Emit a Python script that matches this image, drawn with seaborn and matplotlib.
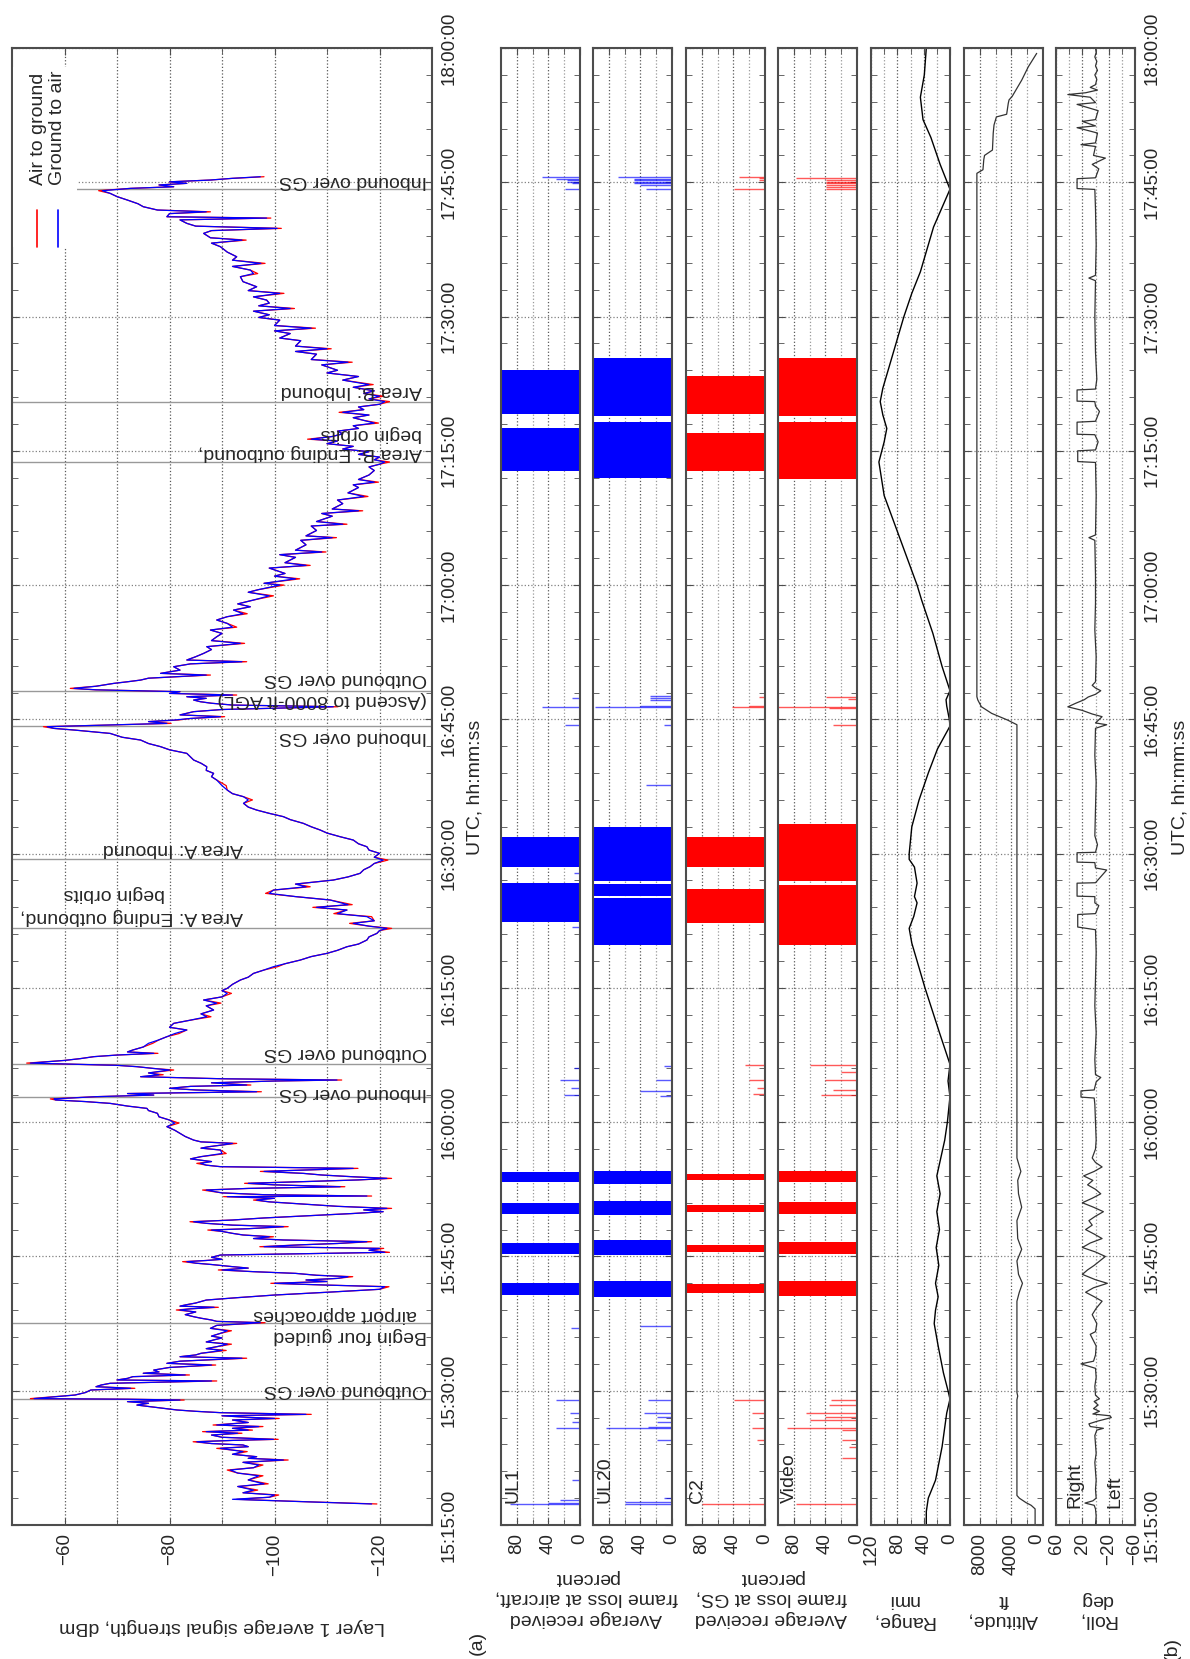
import numpy as np
import seaborn as sns
import matplotlib.pyplot as plt
from matplotlib.ticker import FixedLocator, FuncFormatter, NullFormatter
from matplotlib.patches import Rectangle

sns.set_style("white")
plt.rcParams['font.family'] = ['Liberation Sans', 'DejaVu Sans']

# all times are minutes after 15:00:00 UTC

# layer 1 signal strength: (t, ground to air dBm, air to ground dBm)
sig_pts = np.array([
    (17.35, -118.5, -119.5), (17.6, -106, -106), (17.87, -92, -92.8), (18.1, -99, -99), (18.35, -100, -100.8),
    (18.6, -94, -94), (18.9, -96, -96.8), (19.3, -93, -93), (19.6, -98, -98.8), (20.03, -95, -95),
    (20.5, -97, -97.8), (20.8, -93, -93), (21.14, -91.6, -91), (21.4, -96, -96), (21.7, -97, -97.8),
    (22.0, -94, -94), (22.26, -101.7, -102.6), (22.45, -95, -95), (22.63, -96.6, -96.6), (22.9, -92, -92),
    (23.2, -94, -94.8), (23.56, -89.7, -89), (23.75, -95, -95), (23.94, -94, -94), (24.1, -88, -88),
    (24.3, -85.2, -84.5), (24.45, -92, -92), (24.57, -99.8, -100.7), (24.8, -90, -90), (25.05, -88, -88),
    (25.25, -93, -93.8), (25.43, -87, -86.3), (25.6, -95, -95.8), (25.8, -92, -92), (26.0, -97, -97.8),
    (26.17, -89, -88.3), (26.45, -95, -95), (26.73, -92, -92), (26.9, -100, -100.9), (27.03, -95, -95),
    (27.2, -90, -90), (27.36, -106, -107), (27.55, -89.7, -89.7), (27.7, -85, -85), (27.85, -81.4, -81.4),
    (28.1, -78, -78), (28.4, -73.8, -73.8), (28.6, -76, -76), (28.78, -72, -72), (28.96, -82, -82.8),
    (29.05, -72, -72), (29.12, -54.2, -53.5), (29.52, -62, -62), (29.8, -64, -64), (30.08, -65, -65),
    (30.27, -72.6, -73.4), (30.45, -66, -66), (30.64, -67, -67), (30.83, -68.7, -68.7), (31.09, -88, -89),
    (31.2, -70, -70), (31.38, -72, -72), (31.57, -73, -73), (31.76, -83, -83.8), (31.95, -75, -75),
    (32.1, -78, -78), (32.31, -77, -77), (32.6, -80, -80), (32.87, -88, -88.8), (33.06, -79.5, -79.5),
    (33.3, -82, -82), (33.63, -93.8, -94.7), (33.8, -82, -82), (34.0, -85, -85), (34.18, -86, -86),
    (34.5, -90, -90.8), (34.7, -87, -87), (34.92, -89, -89), (35.2, -91, -91.8), (35.45, -87, -87),
    (35.67, -88.4, -88.4), (35.9, -90, -90), (36.1, -88, -88), (36.41, -89.7, -89.7), (36.7, -91, -91.8),
    (36.97, -87.8, -87.8), (37.3, -89, -89), (37.6, -97.3, -98.2), (37.75, -89, -89), (37.9, -88, -88),
    (38.1, -86, -86), (38.27, -84.6, -84.6), (38.5, -83, -83), (38.8, -85, -85), (39.02, -82, -81.3),
    (39.15, -84, -84), (39.32, -88.5, -89.3), (39.45, -82, -82), (39.58, -83, -83), (39.8, -85, -85),
    (40.13, -87, -87), (40.4, -93, -93), (40.69, -100, -100), (41.0, -110, -110), (41.33, -120, -120),
    (41.62, -121, -121.8), (41.8, -110, -110), (42.0, -100, -99.3), (42.2, -110, -110), (42.37, -106, -106),
    (42.55, -112, -112), (42.74, -114, -114.9), (42.9, -108, -108), (43.11, -104, -104), (43.3, -96, -96),
    (43.49, -90, -89.3), (43.7, -95, -95), (43.86, -92, -92), (44.1, -88, -88), (44.25, -85, -85),
    (44.42, -83.3, -82.5), (44.55, -87, -87), (44.68, -90, -90), (44.9, -88, -88), (45.16, -89.7, -89.7),
    (45.3, -105, -105), (45.46, -121, -121.9), (45.7, -118, -118), (45.9, -120, -120.8), (46.09, -98, -97.2),
    (46.3, -105, -105), (46.45, -112, -112), (46.65, -117.6, -118.5), (46.84, -101.7, -101.7), (47.0, -96, -96),
    (47.2, -99, -99.8), (47.4, -94, -94), (47.58, -92, -92), (47.8, -90, -90), (47.95, -88, -87.3),
    (48.1, -95, -95), (48.33, -101.7, -102.6), (48.5, -92, -92), (48.7, -87, -87), (48.88, -84.6, -83.9),
    (49.07, -92, -92), (49.3, -98, -98), (49.6, -108, -108), (49.8, -115, -115), (50.0, -120.7, -120.7),
    (50.2, -117, -117), (50.37, -121.4, -122.3), (50.6, -112, -112), (50.93, -103.6, -103.6), (51.1, -99, -99),
    (51.3, -96.6, -96), (51.5, -100, -100), (51.68, -91, -90.3), (51.75, -117.6, -118.5), (51.9, -98, -98),
    (52.1, -90, -90), (52.42, -87, -86.3), (52.6, -95, -95), (52.79, -112.5, -113.4), (53.0, -100, -100),
    (53.17, -95, -94.3), (53.4, -108, -108), (53.55, -116, -116), (53.72, -121.4, -122.3), (53.9, -115, -115),
    (54.1, -109, -109), (54.28, -105.5, -105.5), (54.5, -98, -97.3), (54.84, -115, -115.9), (55.03, -89.7, -89.7),
    (55.2, -87, -87), (55.4, -85.9, -85.2), (55.6, -88, -88), (55.9, -84, -84), (56.15, -86, -86),
    (56.5, -90, -90.8), (56.89, -89.7, -89.7), (57.1, -86, -86), (57.26, -87.5, -87.5), (57.45, -90, -90),
    (57.63, -92, -92.8), (57.8, -86, -86), (58.0, -84.6, -84.6), (58.4, -83, -83), (58.75, -82, -82),
    (59.1, -81, -81), (59.5, -79.5, -79.5), (59.9, -81, -81.8), (60.24, -80, -80), (60.6, -78, -78),
    (60.99, -77.7, -77.7), (61.3, -76, -76), (61.54, -75.7, -75.7), (61.8, -72, -72), (62.1, -68.7, -68.7),
    (62.3, -64, -64), (62.48, -58.3, -58.3), (62.6, -58, -57.3), (62.85, -66, -66), (63.03, -77, -77),
    (63.2, -72, -72), (63.4, -96.6, -97.5), (63.6, -85, -85), (63.78, -80, -80), (64.0, -84, -84),
    (64.15, -94.7, -95.5), (64.4, -88, -88), (64.6, -100, -100), (64.71, -111.9, -112.8), (64.85, -90, -90),
    (65.08, -74.5, -74.5), (65.3, -78, -78.8), (65.5, -76, -76), (65.83, -80, -80.8), (66.0, -77, -77),
    (66.2, -73.8, -73.8), (66.35, -70, -70), (66.6, -53.5, -52.8), (66.9, -60, -60), (67.1, -63, -63),
    (67.32, -65.6, -65.6), (67.5, -70, -70), (67.69, -77, -77.8), (67.85, -72, -72), (68.06, -73, -73),
    (68.4, -75, -75), (68.81, -76, -76.8), (69.2, -78, -78), (69.55, -79.5, -79.5), (69.9, -81, -81.8),
    (70.3, -83.3, -83.3), (70.6, -80, -80), (71.04, -80.8, -80.8), (71.4, -84, -84), (71.78, -87.1, -87.9),
    (72.1, -86, -86), (72.53, -88.4, -88.4), (73.0, -87, -87), (73.3, -89, -89.8), (73.65, -86.5, -86.5),
    (74.0, -90, -90), (74.39, -91, -91.8), (74.7, -90, -90), (74.95, -91, -91), (75.4, -92, -92),
    (75.88, -93.5, -93.5), (76.2, -95, -95), (76.62, -96, -96), (77.0, -98, -98), (77.37, -99.8, -100.6),
    (77.7, -102, -102), (78.11, -104.9, -104.9), (78.5, -107, -107), (78.86, -110, -110), (79.2, -112, -112),
    (79.6, -113.8, -113.8), (79.9, -116, -116), (80.35, -117.6, -117.6), (80.7, -118, -118), (81.09, -119.5, -119.5),
    (81.4, -120, -120), (81.65, -121.4, -122.3), (81.9, -118, -118), (82.21, -115, -114.3), (82.5, -119, -119),
    (82.96, -117.6, -118.5), (83.3, -112, -111.3), (83.7, -113.8, -113.8), (84.0, -108, -107.3), (84.3, -114, -114.8),
    (84.82, -110.6, -110.6), (85.2, -104, -104), (85.56, -99, -98.3), (85.93, -99.8, -99.8), (86.3, -106, -106.8),
    (86.6, -104, -104), (87.05, -111.2, -111.2), (87.4, -114, -114), (87.8, -116.3, -116.3), (88.2, -117, -117),
    (88.54, -118.2, -118.2), (88.9, -119, -119), (89.28, -120.7, -121.6), (89.6, -119, -119), (90.03, -120, -120),
    (90.4, -118, -118), (90.77, -117.6, -117.6), (91.1, -116, -116), (91.52, -115, -115), (91.89, -112.5, -112.5),
    (92.3, -110, -110), (92.64, -108.7, -108.7), (93.0, -107, -107), (93.38, -105.5, -105.5), (93.8, -103, -103),
    (94.13, -101.7, -101.7), (94.5, -99, -99), (94.87, -96.6, -96.6), (95.2, -95, -95), (95.62, -94.1, -94.1),
    (96.0, -95, -95.8), (96.36, -94.1, -94.1), (96.7, -92, -92), (97.1, -91, -91), (97.6, -90, -90.8),
    (98.22, -89, -89), (98.6, -88, -88), (98.97, -88.4, -88.4), (99.3, -87, -87), (99.71, -87.1, -87.1),
    (100.1, -86, -86), (100.46, -84.6, -84.6), (100.8, -84, -84), (101.2, -83.3, -83.3), (101.6, -80, -80),
    (101.95, -78.3, -78.3), (102.3, -76, -76), (102.69, -74.5, -74.5), (103.0, -71, -71), (103.43, -68.7, -68.7),
    (103.8, -62, -62), (103.99, -58, -58), (104.18, -56.7, -56), (104.4, -70, -70), (104.55, -79.5, -80.3),
    (104.75, -76, -76), (104.92, -80.8, -81.6), (105.1, -84, -84), (105.3, -89.7, -90.5), (105.5, -82, -82),
    (105.86, -84.6, -84.6), (106.1, -90, -90), (106.41, -111.2, -112.1), (106.6, -92, -92), (106.8, -88, -88),
    (106.97, -85.9, -85.9), (107.16, -84.6, -84.6), (107.35, -87, -87), (107.53, -83.3, -83.3), (107.72, -92, -92.8),
    (107.9, -80, -80), (108.09, -82, -82), (108.3, -66, -66), (108.46, -61.8, -61.1), (108.7, -66, -66),
    (109.02, -69.4, -69.4), (109.2, -72, -72), (109.39, -74.5, -74.5), (109.6, -76, -76), (109.95, -87, -87.8),
    (110.14, -78.3, -78.3), (110.5, -82, -82), (110.88, -80.8, -80.8), (111.2, -84, -84), (111.44, -93.8, -94.7),
    (111.63, -83.3, -83.3), (112.0, -85, -85), (112.37, -86.5, -86.5), (112.8, -88, -88), (113.12, -87.1, -87.1),
    (113.49, -93.5, -94.3), (113.8, -88, -88), (114.23, -89, -89), (114.6, -90, -90), (114.98, -87.8, -87.8),
    (115.3, -92, -92.8), (115.72, -91, -91), (116.1, -89, -89), (116.47, -91, -91), (116.8, -94, -94.8),
    (117.21, -92.2, -92.2), (117.58, -95.4, -95.4), (117.9, -93, -93), (118.33, -96, -96), (118.8, -99, -99.8),
    (119.2, -95, -95), (119.5, -97, -97), (120.0, -101, -101.8), (120.2, -98, -98), (120.7, -104, -104.8),
    (121.0, -100, -100), (121.3, -102, -102), (121.9, -99, -99), (122.2, -106, -106.8), (122.5, -102, -102),
    (123.1, -104, -104), (123.4, -101, -101), (123.7, -109, -109.8), (123.9, -104, -104), (124.5, -106, -106),
    (125.0, -105, -105), (125.3, -111, -111.8), (125.5, -106, -106), (126.1, -108, -108), (126.6, -107, -107),
    (126.8, -113, -113.8), (127.1, -108, -108), (127.7, -111, -111), (128.0, -109, -109), (128.3, -116, -116.8),
    (128.5, -111, -111), (129.1, -113, -113), (129.5, -112, -112), (129.9, -117, -117.8), (130.3, -114, -114),
    (130.9, -116, -116), (131.2, -115, -115), (131.5, -119, -119.8), (131.8, -116, -116), (132.3, -118, -118),
    (132.8, -119, -119), (133.2, -118, -118), (133.5, -120, -120), (133.75, -121, -121.9), (134.0, -119, -119),
    (134.3, -120, -120), (134.6, -116, -116), (134.9, -118, -118), (135.2, -113, -113), (135.5, -115, -115),
    (135.8, -110, -110), (136.1, -112, -112), (136.3, -107, -106.3), (136.6, -111, -111), (136.9, -113, -113),
    (137.2, -112, -112), (137.5, -116, -116), (137.8, -115, -115), (138.1, -119, -119.8), (138.4, -117, -117),
    (138.7, -115, -115), (139.0, -118, -118), (139.3, -113, -112.3), (139.6, -117, -117), (139.9, -116, -116),
    (140.2, -120, -120), (140.5, -121, -121.9), (140.8, -118, -118), (141.1, -120, -120.8), (141.4, -117, -117),
    (141.7, -119, -119), (142.1, -115, -115), (142.4, -118, -118.8), (142.9, -113, -113), (143.3, -116, -116),
    (143.7, -110, -110), (144.0, -112, -112), (144.6, -109, -109), (144.9, -114, -114.8), (145.2, -107, -107),
    (145.8, -108, -108), (146.1, -104, -104), (146.4, -110, -110.8), (146.7, -104, -104), (147.3, -105, -105),
    (147.6, -101, -101), (148.1, -103, -103), (148.4, -100, -100), (148.7, -107, -107.8), (149.0, -100, -100),
    (149.6, -101, -101), (149.9, -97, -97), (150.2, -99, -99), (150.6, -96, -96), (150.9, -103, -103.8),
    (151.2, -97, -97), (151.5, -99, -99), (151.84, -98.5, -98.5), (152.2, -96, -96),
    (152.59, -101, -101.8), (152.9, -95, -95), (153.33, -96.6, -96.6), (153.9, -94, -94), (154.45, -93.5, -93.5),
    (154.8, -96, -96.8), (155.19, -95.4, -95.4), (155.6, -92, -92), (155.94, -97.4, -98.2), (156.3, -92, -92),
    (156.68, -92.8, -92.8), (157.2, -91, -91), (157.8, -89.7, -89.7), (158.2, -88, -88), (158.54, -93.8, -94.6),
    (158.8, -87.8, -87.8), (159.29, -86.5, -86.5), (159.6, -88, -88), (159.85, -100.5, -101.3), (160.1, -85, -85),
    (160.41, -83.3, -83.3), (160.8, -82, -82), (161.0, -98.5, -99.3), (161.15, -79.5, -79.5), (161.5, -80, -80),
    (161.7, -87, -87.8), (161.9, -77.7, -77.7), (162.27, -75, -75), (162.6, -74, -74), (163.01, -72, -72),
    (163.4, -70, -70), (163.76, -68.7, -68.7), (164.06, -67.2, -66.5), (164.32, -72.6, -72.6), (164.5, -80.8, -80.8),
    (164.7, -78, -78), (164.88, -83.3, -83.3), (165.05, -80, -80), (165.25, -87.8, -87.8), (165.44, -92, -92),
    (165.62, -97.3, -98),
])

event_t = [29.07, 37.57, 62.85, 66.46, 81.65, 89.36, 104.25, 108.2, 133.75, 140.5, 164.22]

# (text, time of text centre, right edge as axes fraction)
notes = [
    ("Outbound over GS", 30.16, 0.987),
    ("Begin four guided", 36.2, 0.987),
    ("airport approaches", 38.46, 0.964),
    ("Inbound over GS", 63.3, 0.987),
    ("Outbound over GS", 67.76, 0.987),
    ("Area A: Ending outbound,", 82.95, 0.551),
    ("begin orbits", 85.57, 0.364),
    ("Area A: Inbound", 90.6, 0.551),
    ("Inbound over GS", 103.07, 0.987),
    ("(Ascend to 8000-ft AGL)", 107.24, 0.987),
    ("Outbound over GS", 109.6, 0.987),
    ("Area B: Ending outbound,", 134.8, 0.975),
    ("begin orbits", 136.9, 0.975),
    ("Area B: Inbound", 141.7, 0.975),
    ("Inbound over GS", 165.2, 0.987),
]

# frame loss: solid blocks (start, end) and single samples (t, percent)
ul1_blocks = [(40.7, 42.0), (45.3, 46.5), (49.7, 51.0), (53.3, 54.4), (82.4, 86.7), (88.5, 91.9),
              (132.8, 137.5), (139.1, 144.0)]
ul20_blocks = [(40.5, 42.3), (45.2, 46.8), (49.6, 51.2), (53.1, 54.6), (79.8, 85.0), (85.3, 86.6),
               (86.9, 93.0), (132.0, 138.2), (138.9, 145.4)]
c2_blocks = [(40.9, 41.9), (45.5, 46.3), (50.0, 50.8), (53.5, 54.2), (82.3, 86.1), (88.5, 91.9),
             (132.8, 137.0), (139.1, 143.4)]
video_blocks = [(40.6, 42.3), (45.3, 46.6), (49.7, 51.1), (53.3, 54.5), (79.8, 86.5), (86.9, 93.3),
                (131.9, 138.2), (138.9, 145.4)]

ul1_spk = [(17.35, 88), (17.5, 40), (17.79, 25), (20.03, 10), (25.8, 31), (26.54, 10), (27.47, 13),
           (28.96, 31), (37.0, 12), (63.0, 20), (63.8, 12), (64.7, 25), (66.0, 8), (81.8, 10), (87.8, 8),
           (104.4, 19), (106.4, 48), (107.4, 10), (164.3, 19), (164.95, 10), (165.06, 16), (165.25, 16),
           (165.4, 30), (165.6, 48)]
ul20_spk = [(17.35, 60), (17.6, 60), (17.98, 10), (24.5, 19), (25.8, 83), (26.0, 30), (26.54, 19),
            (27.1, 19), (27.47, 36), (28.96, 31), (37.2, 40), (62.9, 15), (63.5, 40), (64.7, 20), (66.3, 10),
            (97.66, 33), (104.4, 10), (106.4, 98), (106.5, 40), (107.2, 28), (107.4, 28), (107.6, 28),
            (164.3, 33), (164.7, 40), (164.9, 48), (165.06, 48), (165.25, 48), (165.4, 48), (165.6, 68)]
c2_spk = [(17.35, 80), (24.5, 10), (25.8, 16), (27.47, 16), (28.96, 39), (63.1, 15), (63.8, 10), (64.7, 20),
          (66.4, 25), (106.4, 42), (106.5, 20), (107.5, 8), (164.3, 39), (165.25, 8), (165.44, 8), (165.6, 33)]
video_spk = [(17.35, 77), (22.45, 19), (23.75, 10), (24.5, 19), (25.6, 19), (25.8, 88), (26.73, 60),
             (27.1, 40), (27.47, 65), (28.4, 36), (28.96, 33), (63.0, 45), (63.6, 30), (64.7, 40), (65.6, 20),
             (66.4, 60), (104.4, 30), (106.3, 35), (106.4, 100), (107.3, 12), (107.5, 39), (164.3, 39),
             (164.5, 39), (164.7, 39), (164.9, 39), (165.06, 39), (165.25, 39), (165.44, 77)]

range_t = [15.0, 16.5, 18.0, 20.0, 23.75, 27.5, 29.07, 30.0, 32.0, 35.0, 37.5, 39.0, 40.5, 42.0, 44.0,
           46.0, 48.0, 50.0, 52.0, 54.0, 56.0, 58.0, 60.0, 62.85, 64.6, 66.46, 70.0, 75.0, 80.0, 81.65,
           83.0, 84.5, 85.2, 86.7, 88.5, 89.36, 90.0, 93.0, 96.0, 99.0, 101.7, 104.25, 105.0, 106.5, 107.2,
           108.2, 110.9, 114.6, 118.3, 120.0, 125.0, 130.0, 133.75, 136.0, 137.5, 139.0, 140.5, 142.0, 145.0,
           150.0, 152.6, 155.0, 160.0, 164.22, 167.0, 170.0, 172.0, 174.5, 177.0, 180.0]
range_nmi = [36, 36, 33, 22, 12, 5, 0, 3, 10, 18, 24, 22, 18, 22, 17, 21, 16, 20, 15, 20, 14, 8, 4, 0, 3,
             0, 16, 38, 58, 62, 55, 50, 54, 50, 54, 62, 62, 58, 47, 33, 19, 0, 1, 5, 6, 0, 12, 26, 43, 50,
             75, 100, 108, 100, 96, 102, 106, 102, 90, 70, 58, 45, 25, 0, 15, 29, 41, 45, 39, 36]

alt_t = [15.0, 16.8, 17.2, 17.5, 18.0, 18.3, 29.0, 29.4, 29.8, 40.0, 41.0, 42.0, 43.0, 44.5, 45.8, 47.0,
         49.0, 50.5, 52.0, 53.5, 54.5, 56.0, 104.4, 104.92, 105.67, 106.41, 107.16, 107.53, 166.0, 166.4,
         167.5, 168.0, 168.6, 170.5, 171.4, 172.3, 172.6, 173.8, 174.2, 174.6, 176.4, 177.9, 179.4]
alt_ft = [1000, 1000, 1500, 2150, 3000, 3300, 3300, 3200, 3300, 3300, 3000, 2600, 3100, 3300, 2700, 3200,
          3300, 2700, 3100, 3200, 2800, 3300, 3300, 4480, 6500, 7800, 8250, 8370, 8370, 7600, 7500, 7400,
          6400, 6300, 6200, 5900, 4600, 4400, 4300, 3900, 2700, 1860, 800]

roll_pts = np.array([
    (15.0, 0), (16.0, -1), (16.8, 0), (17.2, 2), (17.45, 16), (17.7, 4), (18.0, -1), (19.0, 0), (20.0, -1),
    (21.0, 0), (22.0, 1), (23.0, -1), (24.0, 0), (25.0, 1), (25.6, -2), (25.8, -12), (26.0, 8), (26.3, 10),
    (26.6, -3), (27.0, -24), (27.2, -22), (27.4, 4), (27.7, -6), (28.0, 3), (28.4, -4), (28.8, 2), (29.1, -6),
    (29.5, 0), (30.5, 1), (31.5, -1), (32.5, 0), (33.0, 22), (33.3, 3), (34.0, 0), (35.0, -1), (36.3, 8),
    (36.6, 0), (37.5, -2), (38.5, 5), (39.2, -1), (40.0, -10), (40.5, 2), (41.0, 15), (41.5, 3), (42.0, -18),
    (42.4, 0), (43.0, 20), (43.5, 12), (44.0, 2), (45.0, -15), (45.5, 0), (46.0, 20), (46.5, 8), (47.0, -10),
    (47.5, 2), (48.0, 15), (48.5, 5), (49.0, 10), (49.5, 0), (50.0, -12), (50.5, 3), (51.0, 20), (51.5, 5),
    (52.0, -8), (52.5, 0), (53.0, 12), (53.5, 4), (54.0, 18), (54.5, 2), (55.0, -10), (55.5, 0), (56.0, 5),
    (57.0, 0), (58.0, -1), (60.0, 0), (62.0, 1), (62.7, 2), (62.8, 22), (63.5, 22), (63.6, 2), (64.5, -1),
    (65.0, -8), (65.3, 0), (67.0, 1), (70.0, -1), (73.0, 1), (76.0, 0), (79.0, -1), (81.5, 0), (81.8, 27),
    (83.2, 27), (83.3, 0), (84.2, -5), (84.5, 1), (85.2, 1), (85.25, 28), (86.7, 28), (86.75, 0), (88.17, -17),
    (88.4, 0), (89.0, 1), (89.05, 28), (90.1, 28), (90.15, 0), (91.0, -3), (92.0, 1), (95.0, 0), (98.0, -1),
    (101.0, 1), (104.0, 0), (104.4, -17), (104.6, 0), (105.3, -10), (105.6, 5), (106.0, 20), (106.4, 42),
    (106.8, 30), (107.2, 17), (107.5, 11), (107.8, 0), (108.2, -8), (108.5, 0), (108.8, 5), (109.2, 0),
    (112.0, -1), (115.0, 1), (118.0, 0), (121.0, 0), (125.0, 1), (125.3, 10), (125.6, 0), (130.0, -1),
    (133.7, 0), (133.8, 27), (135.0, 27), (135.1, 0), (136.0, -4), (136.8, 1), (136.85, 28), (138.2, 28),
    (138.3, 0), (139.4, -6), (140.0, 0), (140.5, 1), (140.55, 28), (141.8, 28), (141.9, 0), (143.0, -2),
    (146.0, 0), (150.0, 1), (154.0, 0), (154.3, 10), (154.6, 0), (158.0, -1), (162.0, 0), (164.2, 1),
    (164.3, 28), (165.4, 28), (165.5, 0), (166.5, -5), (167.0, 5), (167.7, -15), (168.0, 3), (169.0, 0),
    (169.2, 22), (169.4, 0), (170.5, -3), (171.1, 28), (171.3, 0), (171.8, 20), (172.0, 0), (173.0, -4),
    (173.7, 28), (173.9, 0), (174.5, 8), (174.8, 42), (175.0, 15), (175.3, -3), (175.6, 8), (175.9, 0),
    (176.5, -2), (177.0, 1), (177.5, -3), (178.0, 0), (178.5, -2), (179.0, 1), (179.5, -1), (180.0, 0),
])

W, H = 1190, 1659
FS = 14
TS = 13.5


def box(left, right, top=48, bottom=1525):
    return [left / W, 1 - bottom / H, (right - left) / W, (bottom - top) / H]


def hms(m, pos):
    mm = int(round(m))
    return f"{15 + mm // 60:02d}:{mm % 60:02d}:00"


def style_axes(ax, major, minor, show_time):
    ax.set_ylim(15, 180)
    ax.yaxis.set_major_locator(FixedLocator(range(15, 181, 15)))
    ax.yaxis.set_minor_locator(FixedLocator(range(15, 181, 3)))
    ax.yaxis.set_major_formatter(FuncFormatter(hms))
    ax.xaxis.set_major_locator(FixedLocator(major))
    ax.xaxis.set_minor_locator(FixedLocator(minor))
    ax.xaxis.set_minor_formatter(NullFormatter())
    ax.tick_params(which='both', direction='in', top=True, bottom=True, left=True, right=True,
                   labelleft=False, labelright=show_time, labelsize=TS, color='0.3')
    ax.tick_params(which='major', length=5)
    ax.tick_params(which='minor', length=4)
    ax.tick_params(axis='x', labelrotation=90, pad=6)
    ax.tick_params(axis='y', labelrotation=90, pad=6)
    for lab in ax.get_yticklabels():
        lab.set_va('center')
    ax.grid(axis='y', which='major', ls=':', color='0.5', lw=0.9)
    ax.grid(axis='x', which='major', ls=':', color='0.35', lw=0.9)
    ax.grid(axis='x', which='minor', ls=':', color='0.6', lw=0.9)
    ax.set_xlabel('')
    ax.set_ylabel('')
    for s in ax.spines.values():
        s.set_color('0.3')
        s.set_linewidth(1.5)


fig = plt.figure(figsize=(W / 100, H / 100), dpi=100)

# ---------------- panel (a) ----------------
ax_a = fig.add_axes(box(12, 432))
for t in event_t:
    ax_a.axhline(t, color='0.6', lw=1.0, zorder=1)
sns.lineplot(x=sig_pts[:, 2], y=sig_pts[:, 0], sort=False, estimator=None, color='red', lw=0.9, ax=ax_a,
             zorder=2)
sns.lineplot(x=sig_pts[:, 1], y=sig_pts[:, 0], sort=False, estimator=None, color='blue', lw=0.9,
             ax=ax_a, zorder=3)
ax_a.set_xlim(-50, -130)
style_axes(ax_a, [-60, -80, -100, -120], [-70, -90, -110], True)
ax_a.grid(axis='x', which='minor', ls=':', color='0.35', lw=0.9)

trans = ax_a.get_yaxis_transform()
for text, t, xr in notes:
    ax_a.text(xr, t, text, transform=trans, rotation=180, ha='right', va='center', fontsize=FS, zorder=4)

# rotated legend drawn by hand
ax_a.add_patch(Rectangle((0.002, 0.865), 0.153, 0.122, transform=ax_a.transAxes, facecolor='white',
                         edgecolor='none', zorder=5))
ax_a.plot([0.0595, 0.0595], [0.865, 0.890], transform=ax_a.transAxes, color='red', lw=1.2, zorder=6)
ax_a.plot([0.1095, 0.1095], [0.865, 0.890], transform=ax_a.transAxes, color='blue', lw=1.2, zorder=6)
ax_a.text(0.062, 0.907, "Air to ground", transform=ax_a.transAxes, rotation=90, ha='center', va='bottom',
          fontsize=FS, zorder=6)
ax_a.text(0.1095, 0.907, "Ground to air", transform=ax_a.transAxes, rotation=90, ha='center', va='bottom',
          fontsize=FS, zorder=6)

# ---------------- panel (b) ----------------
b_lefts = [501, 593, 686, 778, 871, 964, 1056]
axes_b = [fig.add_axes(box(l, l + 79)) for l in b_lefts]

loss_sets = [
    ("UL1", ul1_blocks, ul1_spk, 'blue'),
    ("UL20", ul20_blocks, ul20_spk, 'blue'),
    ("C2", c2_blocks, c2_spk, 'red'),
    ("Video", video_blocks, video_spk, 'red'),
]
for ax, (name, blocks, spikes, col) in zip(axes_b[:4], loss_sets):
    blk = np.array(blocks)
    spk = np.array(spikes)
    ax.barh(y=(blk[:, 0] + blk[:, 1]) / 2, width=100, height=blk[:, 1] - blk[:, 0], left=0, color=col,
            linewidth=0, zorder=2)
    ax.hlines(spk[:, 0], 0, spk[:, 1], color=col, lw=1.0, alpha=0.65, zorder=2)
    ax.set_xlim(100, 0)
    style_axes(ax, [0, 40, 80], [20, 60], False)
    ax.text(0.15, 0.015, name, transform=ax.transAxes, rotation=90, ha='center', va='bottom', fontsize=FS)

ax_r = axes_b[4]
sns.lineplot(x=range_nmi, y=range_t, sort=False, estimator=None, color='black', lw=1.0, ax=ax_r)
ax_r.set_xlim(120, 0)
style_axes(ax_r, [0, 40, 80, 120], [20, 60, 100], False)

ax_h = axes_b[5]
sns.lineplot(x=alt_ft, y=alt_t, sort=False, estimator=None, color='0.2', lw=0.9, ax=ax_h)
ax_h.set_xlim(10000, 0)
style_axes(ax_h, [4000, 8000], [0, 2000, 6000], False)
# the "0" label sits a little inside the frame in the original
ax_h.text(0.925, -0.0056, "0", transform=ax_h.transAxes, rotation=90, ha='center', va='top', fontsize=TS)

ax_roll = axes_b[6]
sns.lineplot(x=roll_pts[:, 1], y=roll_pts[:, 0], sort=False, estimator=None, color='0.2', lw=0.9, ax=ax_roll)
ax_roll.set_xlim(60, -60)
style_axes(ax_roll, [-60, -20, 20, 60], [-40, 0, 40], True)
ax_roll.text(0.24, 0.0115, "Right", transform=ax_roll.transAxes, rotation=90, ha='center', va='bottom',
             fontsize=FS)
ax_roll.text(0.75, 0.0115, "Left", transform=ax_roll.transAxes, rotation=90, ha='center', va='bottom',
             fontsize=FS)

# ---------------- outer labels ----------------
def ftext(x, y, s, rot, **kw):
    fig.text(x / W, 1 - y / H, s, rotation=rot, ha='center', va='center', fontsize=FS,
             multialignment='center', linespacing=1.25, **kw)


ftext(222, 1627, "Layer 1 average signal strength, dBm", 180)
ftext(475, 787, "UTC, hh:mm:ss", 90)
ftext(1180, 787, "UTC, hh:mm:ss", 90)
ftext(586, 1598, "Average received\nframe loss at aircraft,\npercent", 180)
ftext(771, 1598, "Average received\nframe loss at GS,\npercent", 180)
ftext(903, 1610, "Range,\nnmi", 180)
ftext(1003, 1610, "Altitude,\nft", 180)
ftext(1097, 1610, "Roll,\ndeg", 180)
ftext(477, 1643, "(a)", 90)
ftext(1172, 1649, "(b)", 90)

fig.savefig("out.png", dpi=100, facecolor='white')
